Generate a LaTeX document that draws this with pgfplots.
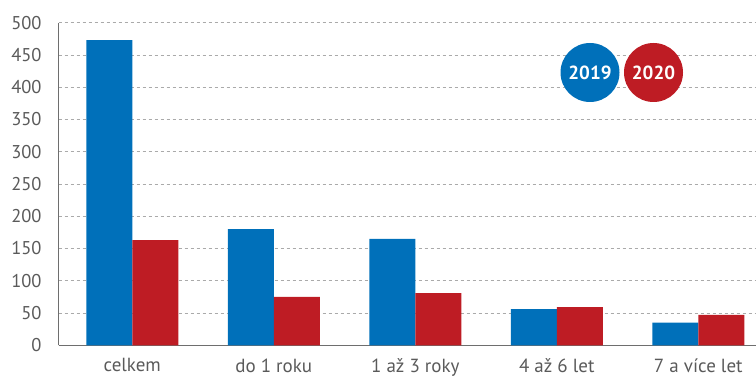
\documentclass[border=0pt]{standalone}
\usepackage{pgfplots}
\pgfplotsset{compat=1.18}
\usepackage{fontspec}
\setmainfont{PT Sans}
\definecolor{cblue}{RGB}{0,112,186}
\definecolor{cred}{RGB}{190,28,36}
\definecolor{tickgray}{RGB}{90,90,90}
\definecolor{axgray}{RGB}{110,110,110}
\definecolor{gridgray}{RGB}{170,170,170}
\begin{document}
\begin{tikzpicture}
\begin{axis}[
  scale only axis,
  width=697.3bp, height=322.6bp,
  xmin=-0.52, xmax=4.408,
  ymin=0, ymax=500,
  ytick={0,50,...,500},
  xtick={0,1,2,3,4},
  xticklabels={celkem, do 1 roku, 1 až 3 roky, 4 až 6 let, 7 a více let},
  axis lines=left,
  axis line style={-, axgray, line width=1.3bp},
  major tick length=0pt,
  ymajorgrids,
  grid style={gridgray, dashed, line width=0.8bp, dash pattern=on 3bp off 3bp},
  ybar=0pt,
  bar width=46bp,
  tick label style={font=\fontsize{18.5bp}{20bp}\selectfont, text=tickgray},
  yticklabel style={inner sep=0pt, xshift=-17bp},
  xticklabel style={inner sep=0pt, yshift=-13bp, anchor=north, font=\fontsize{19bp}{21bp}\selectfont},
  /pgf/number format/assume math mode=true,
  clip=false,
]
\addplot[fill=cblue, draw=none] coordinates {(0,473) (1,180) (2,165) (3,56) (4,35)};
\addplot[fill=cred, draw=none] coordinates {(0,163) (1,75) (2,81) (3,59) (4,47)};
\end{axis}
\fill[cblue] (531.3bp,272.8bp) circle (29.5bp);
\fill[cred] (594.8bp,272.8bp) circle (29.5bp);
\node[text=white, font=\bfseries\fontsize{19bp}{20bp}\selectfont] at (531.3bp,272.8bp) {2019};
\node[text=white, font=\bfseries\fontsize{19bp}{20bp}\selectfont] at (594.8bp,272.8bp) {2020};
\pgfresetboundingbox
\useasboundingbox (-58.7bp,-32.7bp) rectangle (697.3bp,345.3bp);
\end{tikzpicture}
\end{document}
